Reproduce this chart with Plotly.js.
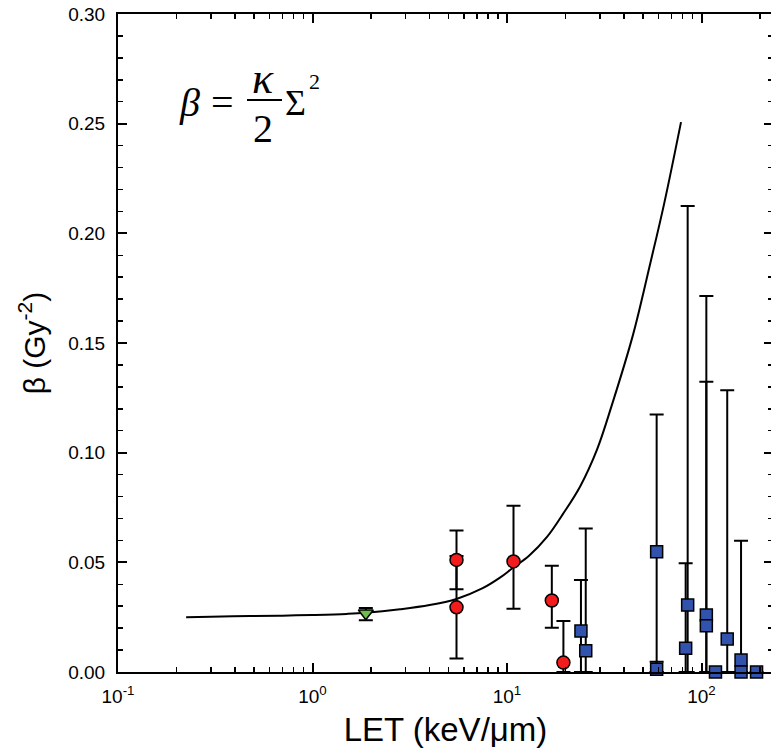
<!DOCTYPE html>
<html>
<head>
<meta charset="utf-8">
<script src="https://cdn.plot.ly/plotly-3.0.1.min.js"></script>
<style>html,body{margin:0;padding:0;overflow:hidden;background:#fff;}#chart{width:773px;height:751px;}</style>
</head>
<body>
<div id="chart"></div>
<script>
// Model curve
const curveLET = [0.224, 0.3, 0.477, 0.7, 1.0, 1.5, 1.88, 2.82, 4.0, 5.5, 7.5, 9.2, 10.73, 12.98, 16.06, 19.41, 23.73, 29.02, 34.66, 44.44, 54.36, 64.15, 78.46];
const curveBeta = [0.0250, 0.0252, 0.0255, 0.0257, 0.0260, 0.0265, 0.0270, 0.0286, 0.0305, 0.0333, 0.0382, 0.0430, 0.0475, 0.0530, 0.0616, 0.0721, 0.0845, 0.1014, 0.1219, 0.1537, 0.1858, 0.2132, 0.2507];

// Green triangle
const greenLET = [1.88];
const greenBeta = [0.0268];
const greenErrPlus = [0.0024];
const greenErrMinus = [0.0032];

// Red circles
const redLET = [5.5, 5.5, 10.8, 17.0, 19.5];
const redBeta = [0.0511, 0.0295, 0.0504, 0.0326, 0.0043];
const redErrPlus = [0.0134, 0.0234, 0.0254, 0.0158, 0.0190];
const redErrMinus = [0.0134, 0.0234, 0.0216, 0.0124, 0.0043];

// Blue squares
const blueLET = [24.0, 25.4, 58.8, 58.8, 82.9, 84.9, 105.9, 105.9, 118, 135.6, 159.7, 159.7, 191.9];
const blueBeta = [0.0187, 0.0097, 0.0548, 0.0012, 0.0108, 0.0305, 0.0260, 0.0211, 0.0000, 0.0151, 0.0055, 0.0000, 0.0000];
const blueErrPlus = [0.0233, 0.0557, 0.0626, 0.0035, 0.0388, 0.1820, 0.1454, 0.1112, 0.0, 0.1134, 0.0543, 0.0, 0.0];
const blueErrMinus = [0.0187, 0.0097, 0.0548, 0.0012, 0.0108, 0.0305, 0.0260, 0.0211, 0.0, 0.0151, 0.0055, 0.0, 0.0];

// Axis ticks
const xTickVals = [0.1, 1, 10, 100];
const xTickText = ['10<sup>-1</sup>', '10<sup>0</sup>', '10<sup>1</sup>', '10<sup>2</sup>'];
const xMinorVals = [0.2,0.3,0.4,0.5,0.6,0.7,0.8,0.9, 2,3,4,5,6,7,8,9, 20,30,40,50,60,70,80,90, 200];
const yTickVals = [0, 0.05, 0.10, 0.15, 0.20, 0.25, 0.30];
const yTickText = ['0.00', '0.05', '0.10', '0.15', '0.20', '0.25', '0.30'];

const L = 118, T = 14, W = 655, H = 658;
const px = (x) => (x - L) / W;
const py = (y) => (T + H - y) / H;

const errStyle = {color: 'black', thickness: 2, width: 7};

const traces = [
  {x: curveLET, y: curveBeta, mode: 'lines', type: 'scatter', line: {color: 'black', width: 2, shape: 'spline', smoothing: 1}, showlegend: false, hoverinfo: 'skip'},
  {x: redLET, y: redBeta, mode: 'markers', type: 'scatter', showlegend: false,
   error_y: Object.assign({type: 'data', symmetric: false, array: redErrPlus, arrayminus: redErrMinus}, errStyle),
   marker: {symbol: 'circle', size: 13, color: '#f21c1c', line: {color: 'black', width: 1.5}}},
  {x: blueLET, y: blueBeta, mode: 'markers', type: 'scatter', showlegend: false, cliponaxis: false,
   error_y: Object.assign({type: 'data', symmetric: false, array: blueErrPlus, arrayminus: blueErrMinus}, errStyle),
   marker: {symbol: 'square', size: 12, color: '#3153ad', line: {color: 'black', width: 1.5}}},
  {x: greenLET, y: greenBeta, mode: 'markers', type: 'scatter', showlegend: false,
   error_y: Object.assign({type: 'data', symmetric: false, array: greenErrPlus, arrayminus: greenErrMinus}, errStyle),
   marker: {symbol: 'triangle-down', size: 13, color: '#6cc04a', line: {color: 'black', width: 1.5}}}
];

const eqFont = {family: 'Liberation Serif, Times New Roman, serif', size: 40, color: 'black'};

const layout = {
  width: 773, height: 751,
  margin: {l: L, r: 0, t: T, b: 751 - T - H},
  paper_bgcolor: 'white', plot_bgcolor: 'white',
  font: {family: 'Liberation Sans, Arial, sans-serif', color: 'black'},
  xaxis: {
    type: 'log', range: [-1, 2.3676],
    tickmode: 'array', tickvals: xTickVals, ticktext: xTickText,
    ticks: 'inside', ticklen: 9, tickwidth: 2, tickcolor: 'black',
    showline: true, linewidth: 2, linecolor: 'black', mirror: 'ticks',
    showgrid: false, zeroline: false,
    tickfont: {size: 19, family: 'Liberation Sans, Arial, sans-serif'},
    ticklabelstandoff: 6,
    minor: {tickmode: 'array', tickvals: xMinorVals, ticks: 'inside', ticklen: 5, tickwidth: 1.5, tickcolor: 'black', showgrid: false},
    title: {text: 'LET (keV/\u03bcm)', font: {size: 33}, standoff: 12}
  },
  yaxis: {
    range: [0, 0.30],
    tickmode: 'array', tickvals: yTickVals, ticktext: yTickText,
    ticks: 'inside', ticklen: 9, tickwidth: 2, tickcolor: 'black',
    showline: true, linewidth: 2, linecolor: 'black', mirror: 'ticks',
    showgrid: false, zeroline: false,
    tickfont: {size: 19, family: 'Liberation Sans, Arial, sans-serif'},
    ticklabelstandoff: 7,
    minor: {dtick: 0.01, ticks: 'inside', ticklen: 5, tickwidth: 1.5, tickcolor: 'black', showgrid: false},
    title: {text: '\u03b2 (Gy<sup>-2</sup>)', font: {size: 30}, standoff: 14}
  },
  annotations: [
    {xref: 'paper', yref: 'paper', x: px(189), y: py(103), xanchor: 'center', yanchor: 'middle', showarrow: false,
     text: '<i>\u03b2</i>', font: eqFont},
    {xref: 'paper', yref: 'paper', x: px(222), y: py(103), xanchor: 'center', yanchor: 'middle', showarrow: false,
     text: '=', font: eqFont},
    {xref: 'paper', yref: 'paper', x: px(263), y: py(78), xanchor: 'center', yanchor: 'middle', showarrow: false,
     text: '<i>\u03ba</i>', font: {family: eqFont.family, size: 44, color: 'black'}},
    {xref: 'paper', yref: 'paper', x: px(263), y: py(128), xanchor: 'center', yanchor: 'middle', showarrow: false,
     text: '2', font: eqFont},
    {xref: 'paper', yref: 'paper', x: px(283), y: py(103), xanchor: 'left', yanchor: 'middle', showarrow: false,
     text: '\u03a3', font: {family: eqFont.family, size: 36, color: 'black'}},
    {xref: 'paper', yref: 'paper', x: px(307), y: py(82), xanchor: 'left', yanchor: 'middle', showarrow: false,
     text: '2', font: {family: eqFont.family, size: 22, color: 'black'}}
  ],
  shapes: [
    {type: 'line', xref: 'paper', yref: 'paper', x0: px(247), x1: px(282), y0: py(100), y1: py(100), line: {color: 'black', width: 2}}
  ]
};

Plotly.newPlot('chart', traces, layout, {displayModeBar: false, staticPlot: true});
</script>
</body>
</html>
